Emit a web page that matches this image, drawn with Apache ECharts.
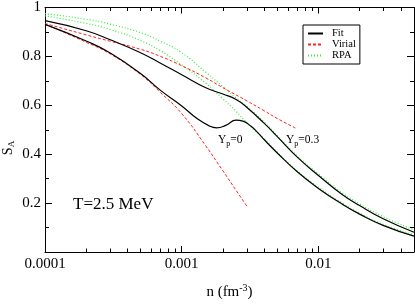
<!DOCTYPE html>
<html><head><meta charset="utf-8">
<script src="https://cdn.jsdelivr.net/npm/echarts@6/dist/echarts.min.js"></script>
<style>html,body{margin:0;padding:0;background:#fff}#c{width:415px;height:305px}</style>
</head><body><div id="c"></div>
<script>
// Fit, Y_p = 0.3
const nFit03 = [1e-4,2e-4,3e-4,5e-4,7e-4,1e-3,1.5e-3,2e-3,2.5e-3,3e-3,4e-3,5e-3,7e-3,1e-2,1.5e-2,2e-2,3e-2,5e-2];
const sFit03 = [0.946,0.905,0.868,0.815,0.772,0.725,0.672,0.646,0.624,0.591,0.527,0.472,0.388,0.313,0.234,0.190,0.135,0.081];
// Fit, Y_p = 0
const nFit0 = [1e-4,2e-4,3e-4,5e-4,7e-4,1e-3,1.3e-3,1.6e-3,1.8e-3,2.1e-3,2.5e-3,2.8e-3,3.2e-3,3.6e-3,4e-3,5e-3,7e-3,1e-2,1.5e-2,2e-2,3e-2,5e-2];
const sFit0 = [0.931,0.863,0.814,0.730,0.661,0.597,0.545,0.515,0.508,0.518,0.539,0.535,0.515,0.488,0.460,0.405,0.328,0.260,0.195,0.155,0.108,0.065];
// Virial
const nVir03 = [1e-4,2e-4,3e-4,5e-4,7e-4,1e-3,1.5e-3,2e-3,3e-3,4e-3,5e-3,7e-3];
const sVir03 = [0.935,0.888,0.862,0.829,0.800,0.762,0.712,0.672,0.618,0.578,0.546,0.503];
const nVir0 = [1e-4,2e-4,3e-4,5e-4,7e-4,1e-3,1.5e-3,2e-3,2.5e-3,3e-3];
const sVir0 = [0.932,0.858,0.810,0.726,0.652,0.566,0.434,0.332,0.252,0.187];
// RPA
const nRpa03 = [1e-4,2e-4,3e-4,5e-4,7e-4,1e-3,1.5e-3,2e-3,2.5e-3,3e-3,4e-3,5e-3,7e-3,1e-2,1.5e-2,2e-2,3e-2,5e-2];
const sRpa03 = [0.975,0.952,0.932,0.897,0.862,0.815,0.735,0.676,0.630,0.595,0.532,0.476,0.393,0.319,0.241,0.197,0.143,0.091];
const nRpa0 = [1e-4,2e-4,3e-4,5e-4,7e-4,1e-3,1.5e-3,2e-3,2.5e-3,3e-3,3.5e-3,4e-3,5e-3,7e-3,1e-2,1.5e-2,2e-2,3e-2,5e-2];
const sRpa0 = [0.966,0.935,0.910,0.865,0.823,0.765,0.690,0.626,0.575,0.528,0.492,0.464,0.408,0.332,0.265,0.199,0.159,0.112,0.071];
// ticks
const xMajor = [1e-4,1e-3,1e-2];
const xMajorLabels = ['0.0001','0.001','0.01'];
const xMinor = [2e-4,3e-4,4e-4,5e-4,6e-4,7e-4,8e-4,9e-4,2e-3,3e-3,4e-3,5e-3,6e-3,7e-3,8e-3,9e-3,2e-2,3e-2,4e-2];
const yMajor = [0.2,0.4,0.6,0.8,1];
const yMajorLabels = ['0.2','0.4','0.6','0.8','1'];

const F = 'Liberation Serif';
const zip = (a,b) => a.map((v,i)=>[v,b[i]]);
const chart = echarts.init(document.getElementById('c'));
const xBase = {type:'log', logBase:10, min:1e-4, max:0.05, splitLine:{show:false}, axisLine:{lineStyle:{color:'#000',width:1}}};
const xAx = (pos, major, labels) => Object.assign({}, xBase, {
  position: pos,
  axisLine: {show: major, lineStyle:{color:'#000',width:1}},
  axisTick: {show:true, inside:true, length: major?6:3.5, lineStyle:{color:'#000'}, customValues: major?xMajor:xMinor},
  axisLabel: labels ? {show:true, customValues:xMajor, margin:5, color:'#000', fontFamily:F, fontSize:15,
     formatter:(v)=>{let i=xMajor.findIndex(m=>Math.abs(Math.log10(m)-Math.log10(v))<1e-6);return i>=0?xMajorLabels[i]:'';}} : {show:false}
});
const xAxes = [xAx('bottom',true,true), xAx('bottom',false,false), xAx('top',true,false), xAx('top',false,false)];
xAxes[0].name = '{a|n (fm}{sup|-3}{a|)}';
xAxes[0].nameLocation = 'middle';
xAxes[0].nameGap = 31;
xAxes[0].nameTextStyle = {color:'#000', fontFamily:F, fontSize:15, rich:{a:{fontFamily:F,fontSize:15,color:'#000'}, sup:{fontFamily:F,fontSize:10,color:'#000',padding:[0,0,9,0]}}};
const yAx = (pos, labels) => ({type:'value', position:pos, min:0, max:1, interval:0.2, splitLine:{show:false},
  axisLine:{show:true, lineStyle:{color:'#000',width:1}},
  axisTick:{show:true, inside:true, length:7, lineStyle:{color:'#000'}},
  minorTick:{show:true, splitNumber:2, length:4, lineStyle:{color:'#000'}},
  axisLabel: labels ? {show:true, customValues:yMajor, margin:4, color:'#000', fontFamily:F, fontSize:15,
     formatter:(v)=>{let i=yMajor.findIndex(m=>Math.abs(m-v)<1e-6);return i>=0?yMajorLabels[i]:'';}} : {show:false}
});
const line = (name, n, s, color, type, width) => ({name, type:'line', xAxisIndex:0, yAxisIndex:0, data:zip(n,s),
  showSymbol:false, symbol:'none', smooth:true, silent:true, animation:false,
  lineStyle:{color, width, type}, itemStyle:{color}});
const dotted = [1,2];
chart.setOption({
  animation:false,
  grid:{left:45, right:1, top:7, bottom:40, containLabel:false},
  xAxis: xAxes,
  yAxis: [yAx('left',true), yAx('right',false)],
  legend:{data:['Fit','Virial','RPA'], orient:'vertical', left:303, top:25, padding:[3,4,3,4],
    borderColor:'#000', borderWidth:1, borderRadius:0, itemWidth:15, itemHeight:8, itemGap:0,
    itemStyle:{opacity:0},
    textStyle:{fontFamily:F, fontSize:10.5, color:'#000', lineHeight:11, padding:[0,0,0,4]}},
  series:[
    line('RPA', nRpa03, sRpa03, '#33ee33', dotted, 1.2),
    line('RPA', nRpa0, sRpa0, '#33ee33', dotted, 1.2),
    line('Virial', nVir03, sVir03, '#ff2020', [3,2], 1),
    line('Virial', nVir0, sVir0, '#ff2020', [3,2], 1),
    line('Fit', nFit03, sFit03, '#000', 'solid', 1.2),
    line('Fit', nFit0, sFit0, '#000', 'solid', 1.2)
  ],
  graphic:[
    {type:'text', left:73, top:196, style:{text:'T=2.5 MeV', fontFamily:F, fontSize:17, fill:'#000'}},
    {type:'text', left:218, top:134, style:{text:'{a|Y}{s|p}{a|=0}', rich:{a:{fontFamily:F,fontSize:11.5,fill:'#000'}, s:{fontFamily:F,fontSize:8,fill:'#000',padding:[7,0,0,0]}}}},
    {type:'text', left:286, top:134, style:{text:'{a|Y}{s|p}{a|=0.3}', rich:{a:{fontFamily:F,fontSize:11.5,fill:'#000'}, s:{fontFamily:F,fontSize:8,fill:'#000',padding:[7,0,0,0]}}}},
    {type:'text', x:16, y:148, rotation:Math.PI/2, style:{text:'{a|S}{s|A}', align:'center', verticalAlign:'bottom', rich:{a:{fontFamily:F,fontSize:14,fill:'#000'}, s:{fontFamily:F,fontSize:9,fill:'#000',padding:[7,0,0,0]}}}}
  ]
});
</script></body></html>
